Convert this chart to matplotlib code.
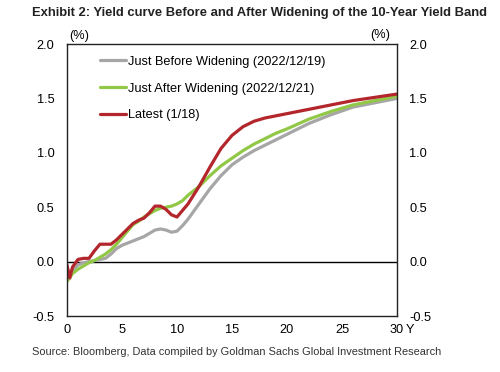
import matplotlib.pyplot as plt

plt.rcParams["font.family"] = ["Liberation Sans", "DejaVu Sans"]

anos = [0, 0.25, 0.5, 1, 1.5, 2, 2.5, 3, 3.5, 4, 4.5, 5, 5.5, 6, 6.5, 7, 7.5, 8,
        8.5, 9, 9.5, 10, 10.5, 11, 12, 13, 14, 15, 16, 17, 18, 19, 20, 22, 24,
        26, 28, 30]

antes = [-0.15, -0.12, -0.08, -0.03, -0.01, 0.00, 0.01, 0.02, 0.03, 0.07, 0.12,
         0.15, 0.17, 0.19, 0.21, 0.23, 0.26, 0.29, 0.30, 0.29, 0.27, 0.28, 0.33,
         0.39, 0.53, 0.67, 0.79, 0.89, 0.96, 1.02, 1.07, 1.12, 1.17, 1.27, 1.35,
         1.42, 1.46, 1.50]

depois = [-0.18, -0.15, -0.11, -0.07, -0.04, -0.01, 0.01, 0.04, 0.07, 0.11, 0.16,
          0.22, 0.28, 0.34, 0.37, 0.41, 0.44, 0.47, 0.49, 0.50, 0.51, 0.53, 0.56,
          0.61, 0.69, 0.79, 0.88, 0.95, 1.02, 1.08, 1.13, 1.18, 1.22, 1.31, 1.38,
          1.44, 1.48, 1.52]

recente = [-0.03, -0.15, -0.05, 0.02, 0.03, 0.03, 0.10, 0.16, 0.16, 0.16, 0.20,
           0.25, 0.30, 0.35, 0.38, 0.40, 0.45, 0.51, 0.51, 0.48, 0.43, 0.41, 0.47,
           0.53, 0.69, 0.87, 1.04, 1.16, 1.24, 1.29, 1.32, 1.34, 1.36, 1.40, 1.44,
           1.48, 1.51, 1.54]

rotulos = ["Just Before Widening (2022/12/19)",
           "Just After Widening (2022/12/21)",
           "Latest (1/18)"]
cores = ["#A6A6A6", "#92C847", "#B3262C"]

fig = plt.figure(figsize=(5, 3.72), dpi=100)
ax = fig.add_axes([0.134, 0.1505, 0.66, 0.7312])

for serie, rotulo, cor in zip([antes, depois, recente], rotulos, cores):
    ax.plot(anos, serie, color=cor, lw=2.3, label=rotulo,
            solid_joinstyle="round", solid_capstyle="round")

ax.axhline(0, color="black", lw=1, zorder=1)
ax.set_xlim(0, 30)
ax.set_ylim(-0.5, 2.0)
ax.set_xticks([0, 5, 10, 15, 20, 25, 30])
ax.set_yticks([-0.5, 0.0, 0.5, 1.0, 1.5, 2.0])
ax.set_yticklabels(["-0.5", "0.0", "0.5", "1.0", "1.5", "2.0"])
ax.tick_params(axis="y", length=0, labelsize=9.2, labelleft=True,
               labelright=True, pad=9)
ax.tick_params(axis="x", length=0, labelsize=9.2, pad=6)
for spine in ax.spines.values():
    spine.set_color("#222222")
    spine.set_linewidth(1)

ax.annotate("Y", xy=(30, -0.5), xytext=(6, -6), textcoords="offset points",
            fontsize=9.2, va="top", ha="left", annotation_clip=False)

fig.text(0.138, 0.903, "(%)", fontsize=9.2, ha="left", va="center")
fig.text(0.78, 0.906, "(%)", fontsize=9.2, ha="right", va="center")

ax.legend(loc="upper left", bbox_to_anchor=(0.085, 0.975), frameon=False,
          fontsize=9.2, handlelength=2.0, handletextpad=0.15,
          labelspacing=1.15, borderaxespad=0)

fig.text(0.064, 0.965, "Exhibit 2: Yield curve Before and After Widening of the 10-Year Yield Band",
         fontsize=9.4, fontweight="bold", ha="left", va="center", color="#222222")
fig.text(0.064, 0.054, "Source: Bloomberg, Data compiled by Goldman Sachs Global Investment Research",
         fontsize=7.9, ha="left", va="center", color="#333333")

fig.savefig("out.png", dpi=100)
